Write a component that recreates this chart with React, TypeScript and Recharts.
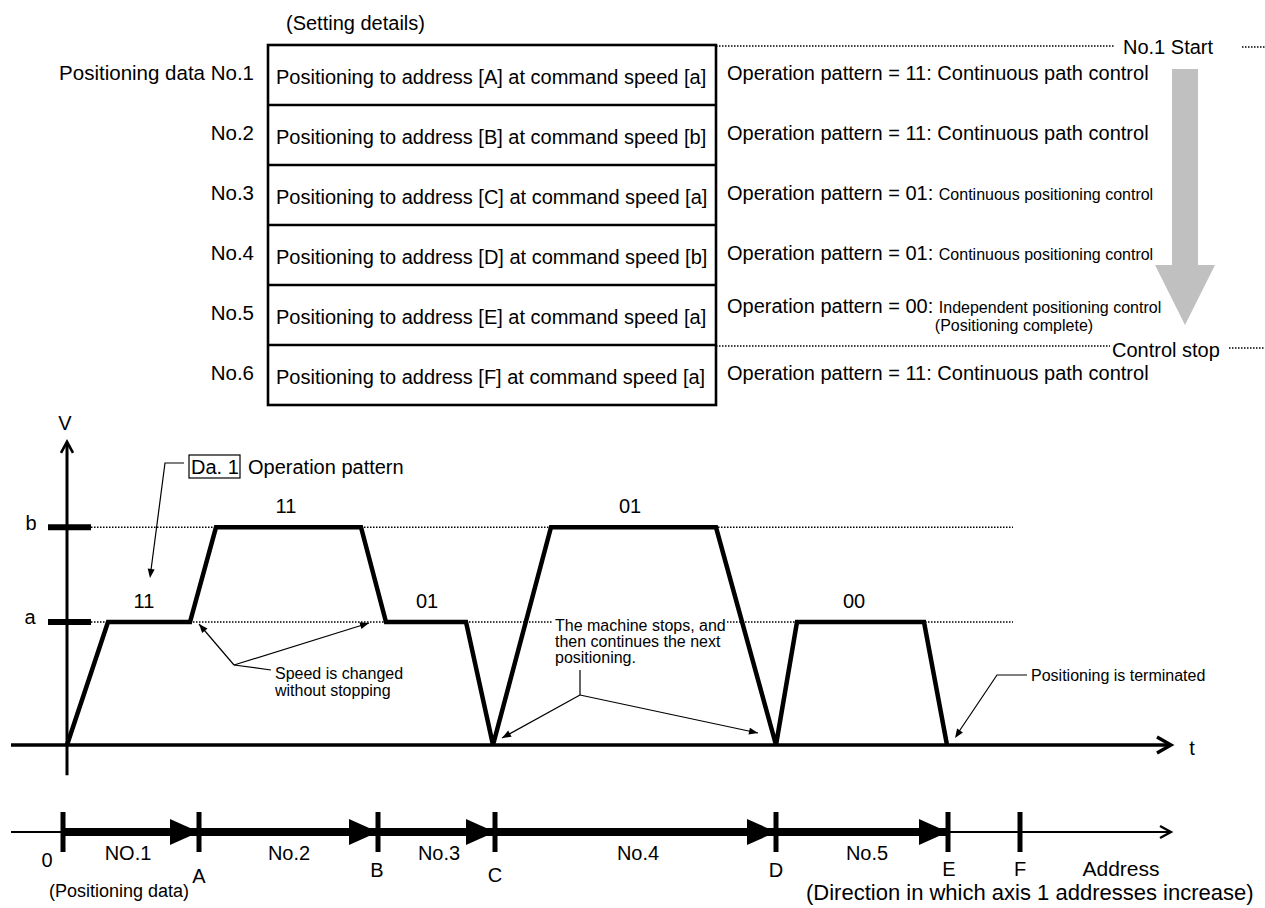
import React from 'react';
import { ComposedChart, Line, XAxis, YAxis, ReferenceLine, Scatter } from 'recharts';

const FONT = '"Liberation Sans", Arial, Helvetica, sans-serif';
const W = 1265;
const H = 908;

// ---------- table content ----------
const rowLabels = ['Positioning data No.1', 'No.2', 'No.3', 'No.4', 'No.5', 'No.6'];
const rowAddresses = ['A', 'B', 'C', 'D', 'E', 'F'];
const rowCommandSpeeds = ['a', 'b', 'a', 'b', 'a', 'a'];
const rowPatternCodes = ['11', '11', '01', '01', '00', '11'];
const rowPatternNames = [
  'Continuous path control',
  'Continuous path control',
  'Continuous positioning control',
  'Continuous positioning control',
  'Independent positioning control',
  'Continuous path control',
];
const rowPatternSmall = [false, false, true, true, true, false];

// ---------- speed profile (time units, speed relative to a) ----------
const SPEED_A = 1.0;
const SPEED_B = 1.77;
const profileTime = [0, 4.1, 12.3, 14.9, 29.4, 31.9, 39.9, 42.6, 48.4, 64.9, 70.9, 73.0, 85.7, 88.0];
const profileSpeed = [0, SPEED_A, SPEED_A, SPEED_B, SPEED_B, SPEED_A, SPEED_A, 0, SPEED_B, SPEED_B, 0, SPEED_A, SPEED_A, 0];
const plateauTime = [7.7, 21.9, 36.0, 56.3, 78.7];
const plateauSpeed = [SPEED_A, SPEED_B, SPEED_A, SPEED_B, SPEED_A];
const plateauPattern = ['11', '11', '01', '01', '00'];

// ---------- address axis ----------
const addressNames = ['0', 'A', 'B', 'C', 'D', 'E', 'F'];
const addressValues = [0, 13.6, 31.5, 43.2, 71.3, 88.5, 95.7];
const segmentNames = ['NO.1', 'No.2', 'No.3', 'No.4', 'No.5'];
const segmentLabelPos = [6.5, 22.6, 37.6, 57.5, 80.4];

const profileData = profileTime.map((t, i) => ({ t, v: profileSpeed[i] }));
const plateauData = plateauTime.map((t, i) => ({ t, v: plateauSpeed[i], label: plateauPattern[i] }));
const addrPoints = addressValues.map((x, i) => ({ x, y: 0, name: addressNames[i] }));
const thickData = [
  { x: addressValues[0], y: 0 },
  { x: addressValues[5], y: 0 },
];
const arrowTips = addrPoints.slice(1, 6);
const segLabels = segmentNames.map((n, i) => ({ x: segmentLabelPos[i], y: 0, name: n }));

const letterOffset: Record<string, [number, number]> = {
  '0': [-16, 28],
  A: [0, 44],
  B: [-1, 38],
  C: [0, 43],
  D: [0, 38],
  E: [1, 37],
  F: [0, 37],
};

// ---------- shapes ----------
const upArrowAxis = (p: any) => {
  const x = p.x1;
  const top = Math.min(p.y1, p.y2);
  const bottom = Math.max(p.y1, p.y2);
  return (
    <g>
      <line x1={x} y1={bottom} x2={x} y2={top + 1} stroke="#000" strokeWidth={3} />
      <polyline points={`${x - 6},${top + 11} ${x},${top} ${x + 6},${top + 11}`} fill="none" stroke="#000" strokeWidth={2.6} />
    </g>
  );
};

const rightArrowAxis = (sw: number, len: number, half: number) => (p: any) => {
  const left = Math.min(p.x1, p.x2);
  const right = Math.max(p.x1, p.x2);
  const y = p.y1;
  return (
    <g>
      <line x1={left} y1={y} x2={right - 1} y2={y} stroke="#000" strokeWidth={sw} />
      <polyline points={`${right - len},${y - half} ${right},${y} ${right - len},${y + half}`} fill="none" stroke="#000" strokeWidth={sw * 0.75 + 0.8} />
    </g>
  );
};

function arrowHead(x1: number, y1: number, x2: number, y2: number, len = 9, half = 3.5) {
  const dx = x2 - x1;
  const dy = y2 - y1;
  const d = Math.sqrt(dx * dx + dy * dy);
  const ux = dx / d;
  const uy = dy / d;
  const bx = x2 - ux * len;
  const by = y2 - uy * len;
  const px = -uy * half;
  const py = ux * half;
  return <polygon points={`${x2},${y2} ${bx + px},${by + py} ${bx - px},${by - py}`} fill="#000" />;
}

function Leader({ x1, y1, x2, y2 }: { x1: number; y1: number; x2: number; y2: number }) {
  return (
    <g>
      <line x1={x1} y1={y1} x2={x2} y2={y2} stroke="#000" strokeWidth={1.2} />
      {arrowHead(x1, y1, x2, y2)}
    </g>
  );
}

// ---------- speed chart ----------
function SpeedChart() {
  return (
    <div style={{ position: 'absolute', left: 0, top: 0 }}>
      <ComposedChart width={W} height={H} data={profileData} margin={{ top: 437.5, right: 78, bottom: 132.25, left: 7 }}>
        <XAxis type="number" dataKey="t" domain={[-6, 112]} hide allowDataOverflow />
        <YAxis type="number" domain={[-0.25, 2.5]} hide allowDataOverflow />
        <ReferenceLine segment={[{ x: 2.4, y: SPEED_B }, { x: 94.6, y: SPEED_B }]} stroke="#000" strokeWidth={1.4} strokeDasharray="1.5 1.5" />
        <ReferenceLine segment={[{ x: 2.4, y: SPEED_A }, { x: 94.6, y: SPEED_A }]} stroke="#000" strokeWidth={1.4} strokeDasharray="1.5 1.5" />
        <ReferenceLine segment={[{ x: -1.9, y: SPEED_B }, { x: 2.4, y: SPEED_B }]} stroke="#000" strokeWidth={6} />
        <ReferenceLine segment={[{ x: -1.9, y: SPEED_A }, { x: 2.4, y: SPEED_A }]} stroke="#000" strokeWidth={6} />
        <ReferenceLine segment={[{ x: 0, y: -0.245 }, { x: 0, y: 2.465 }]} shape={upArrowAxis} />
        <ReferenceLine segment={[{ x: -5.6, y: 0 }, { x: 110.4, y: 0 }]} shape={rightArrowAxis(3.5, 14, 8)} />
        <Line dataKey="v" stroke="#000" strokeWidth={4.5} dot={false} isAnimationActive={false} />
        <Scatter
          data={plateauData}
          dataKey="v"
          isAnimationActive={false}
          shape={(p: any) => (
            <text x={p.cx} y={p.cy - 21} dy="0.35em" textAnchor="middle" fontSize={20} fontFamily={FONT} fill="#000">
              {p.payload.label}
            </text>
          )}
        />
      </ComposedChart>
    </div>
  );
}

// ---------- address chart ----------
function AddressChart() {
  return (
    <div style={{ position: 'absolute', left: 0, top: 0 }}>
      <ComposedChart width={W} height={H} data={thickData} margin={{ top: 812, right: 82, bottom: 0, left: 3 }}>
        <XAxis type="number" dataKey="x" domain={[-6, 112]} hide allowDataOverflow />
        <YAxis type="number" domain={[-3.8, 1]} hide allowDataOverflow />
        <ReferenceLine segment={[{ x: -5.2, y: 0 }, { x: 110.8, y: 0 }]} shape={rightArrowAxis(2, 11, 6)} />
        <Line dataKey="y" stroke="#000" strokeWidth={8} dot={false} isAnimationActive={false} />
        {addressValues.map((a) => (
          <ReferenceLine key={a} segment={[{ x: a, y: -1 }, { x: a, y: 1 }]} stroke="#000" strokeWidth={5} />
        ))}
        <Scatter
          data={arrowTips}
          dataKey="y"
          isAnimationActive={false}
          shape={(p: any) => (
            <polygon points={`${p.cx},${p.cy} ${p.cx - 29},${p.cy - 13} ${p.cx - 29},${p.cy + 13}`} fill="#000" />
          )}
        />
        <Scatter
          data={addrPoints}
          dataKey="y"
          isAnimationActive={false}
          shape={(p: any) => {
            const o = letterOffset[p.payload.name] || [0, 40];
            return (
              <text x={p.cx + o[0]} y={p.cy + o[1]} dy="0.35em" textAnchor="middle" fontSize={20} fontFamily={FONT} fill="#000">
                {p.payload.name}
              </text>
            );
          }}
        />
        <Scatter
          data={segLabels}
          dataKey="y"
          isAnimationActive={false}
          shape={(p: any) => (
            <text x={p.cx} y={p.cy + 21} dy="0.35em" textAnchor="middle" fontSize={20} fontFamily={FONT} fill="#000">
              {p.payload.name}
            </text>
          )}
        />
      </ComposedChart>
    </div>
  );
}

// ---------- static overlay (table, notes) ----------
function Overlay() {
  const top = 45;
  const rh = 60;
  const dots = { stroke: '#000', strokeWidth: 1.4, strokeDasharray: '1.5 1.5' } as const;
  return (
    <svg width={W} height={H} style={{ position: 'absolute', left: 0, top: 0, pointerEvents: 'none' }} fontFamily={FONT} fill="#000">
      <text x={286} y={23} dy="0.35em" fontSize={20}>(Setting details)</text>

      {/* gray flow arrow */}
      <polygon points="1172,69 1198,69 1198,265 1215,265 1185,325 1155,265 1172,265" fill="#c0c0c0" />

      {/* table */}
      <rect x={268} y={top} width={448} height={rh * 6} fill="none" stroke="#000" strokeWidth={2.6} />
      {[1, 2, 3, 4, 5].map((i) => (
        <line key={i} x1={268} x2={716} y1={top + rh * i} y2={top + rh * i} stroke="#000" strokeWidth={2.6} />
      ))}
      {rowLabels.map((l, i) => (
        <text key={'l' + i} x={254} y={top + rh * i + 28} dy="0.35em" fontSize={20.5} textAnchor="end">{l}</text>
      ))}
      {rowAddresses.map((a, i) => (
        <text key={'c' + i} x={276} y={top + rh * i + 32} dy="0.35em" fontSize={20}>
          {`Positioning to address [${a}] at command speed [${rowCommandSpeeds[i]}]`}
        </text>
      ))}
      {rowPatternCodes.map((c, i) => (
        <text key={'p' + i} x={727} y={top + rh * i + (i === 4 ? 22 : 29)} dy="0.35em" style={{ whiteSpace: 'pre' }}>
          <tspan fontSize={20}>{`Operation pattern = ${c}: `}</tspan>
          <tspan fontSize={rowPatternSmall[i] ? 16 : 20}>{rowPatternNames[i]}</tspan>
        </text>
      ))}
      <text x={1014} y={325} dy="0.35em" fontSize={16} textAnchor="middle">(Positioning complete)</text>

      {/* start / stop markers */}
      <line x1={716} x2={1114} y1={46} y2={46} {...dots} />
      <text x={1123} y={47} dy="0.35em" fontSize={20}>No.1 Start</text>
      <line x1={1242} x2={1265} y1={47} y2={47} {...dots} />
      <line x1={716} x2={1110} y1={346} y2={346} {...dots} />
      <text x={1112} y={350} dy="0.35em" fontSize={20}>Control stop</text>
      <line x1={1229} x2={1265} y1={348} y2={348} {...dots} />

      {/* chart axis letters */}
      <text x={65} y={423} dy="0.35em" fontSize={20} textAnchor="middle">V</text>
      <text x={31} y={523} dy="0.35em" fontSize={20} textAnchor="middle">b</text>
      <text x={30} y={617} dy="0.35em" fontSize={20} textAnchor="middle">a</text>
      <text x={1192} y={748} dy="0.35em" fontSize={20} textAnchor="middle">t</text>

      {/* Da.1 note */}
      <rect x={189} y={455} width={51} height={23} fill="none" stroke="#000" strokeWidth={1.2} />
      <text x={191} y={467} dy="0.35em" fontSize={20}>Da. 1</text>
      <text x={248} y={467} dy="0.35em" fontSize={20}>Operation pattern</text>
      <polyline points="184,463 165,463 151,570" fill="none" stroke="#000" strokeWidth={1.2} />
      {arrowHead(165, 463, 150, 578)}

      {/* speed change note */}
      <Leader x1={234} y1={665} x2={199} y2={624} />
      <Leader x1={234} y1={665} x2={369} y2={623} />
      <line x1={234} y1={665} x2={271} y2={670} stroke="#000" strokeWidth={1.2} />
      <text x={275} y={673} dy="0.35em" fontSize={16}>Speed is changed</text>
      <text x={275} y={690} dy="0.35em" fontSize={16}>without stopping</text>

      {/* machine stops note */}
      <rect x={553} y={614} width={174} height={50} fill="#fff" />
      <text x={555} y={625} dy="0.35em" fontSize={16}>The machine stops, and</text>
      <text x={555} y={641} dy="0.35em" fontSize={16}>then continues the next</text>
      <text x={555} y={657} dy="0.35em" fontSize={16}>positioning.</text>
      <line x1={580} y1={670} x2={580} y2={695} stroke="#000" strokeWidth={1.2} />
      <Leader x1={580} y1={695} x2={502} y2={738} />
      <Leader x1={580} y1={695} x2={758} y2={733} />

      {/* termination note */}
      <polyline points="1027,675 997,675 958,733" fill="none" stroke="#000" strokeWidth={1.2} />
      {arrowHead(997, 675, 955, 738)}
      <text x={1031} y={675} dy="0.35em" fontSize={16}>Positioning is terminated</text>

      {/* address notes */}
      <text x={119} y={891} dy="0.35em" fontSize={18} textAnchor="middle">(Positioning data)</text>
      <text x={1121} y={869} dy="0.35em" fontSize={21} textAnchor="middle">Address</text>
      <text x={806} y={892} dy="0.35em" fontSize={22}>(Direction in which axis 1 addresses increase)</text>
    </svg>
  );
}

export default function App() {
  return (
    <div style={{ position: 'absolute', left: 0, top: 0, width: W, height: H, background: '#fff', fontFamily: FONT }}>
      <SpeedChart />
      <AddressChart />
      <Overlay />
    </div>
  );
}
